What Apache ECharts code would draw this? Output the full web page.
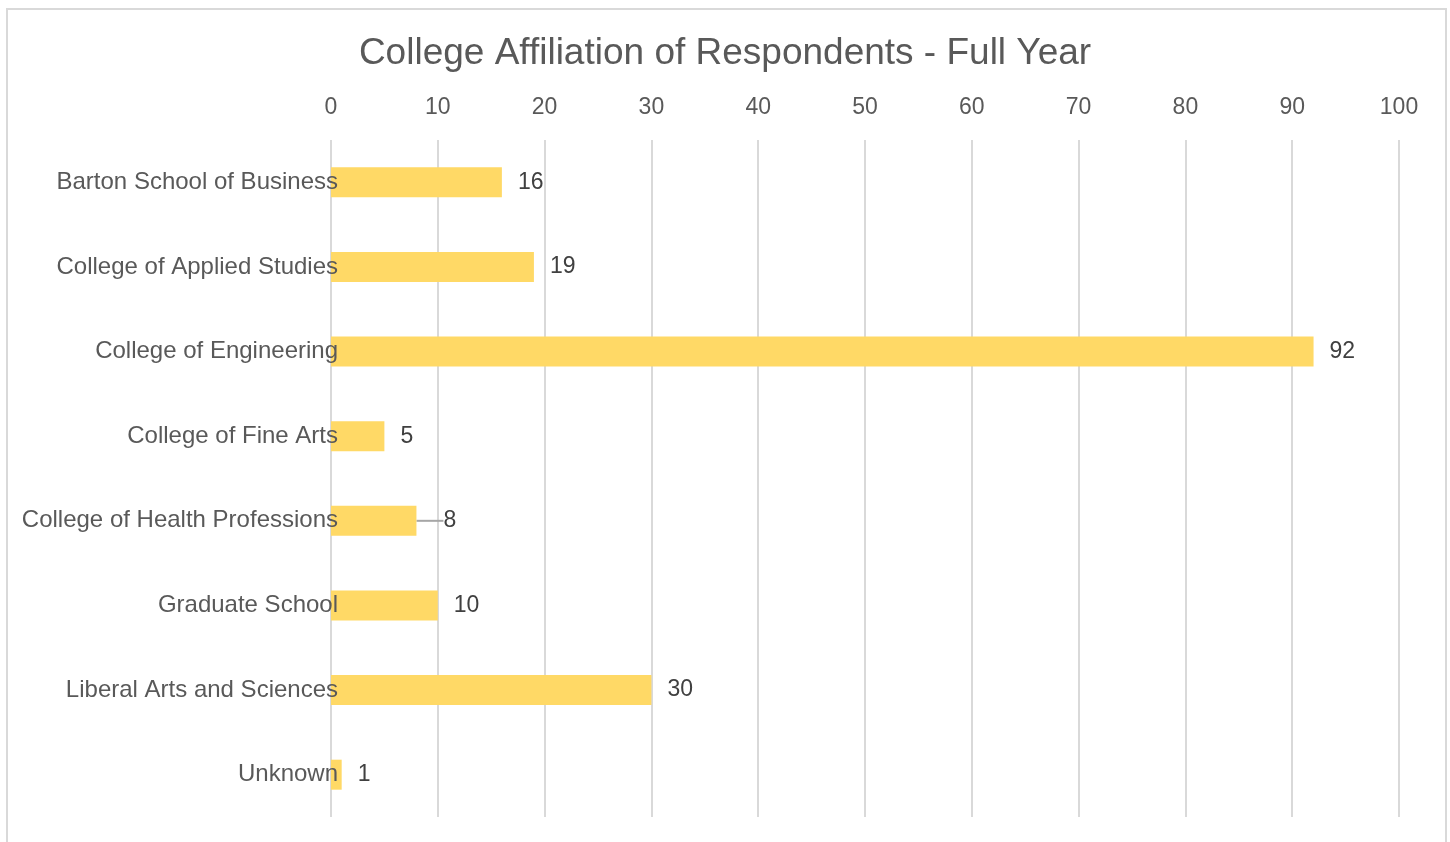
<!DOCTYPE html>
<html><head><meta charset="utf-8">
<script src="https://cdn.jsdelivr.net/npm/echarts@6/dist/echarts.min.js"></script>
<style>html,body{margin:0;padding:0;background:#fff}#c{width:1450px;height:842px}</style>
</head><body><div id="c"></div>
<script>
const categories = ["Barton School of Business","College of Applied Studies","College of Engineering","College of Fine Arts","College of Health Professions","Graduate School","Liberal Arts and Sciences","Unknown"];
const values = [16,19,92,5,8,10,30,1];
const title = "College Affiliation of Respondents - Full Year";

const chart = echarts.init(document.getElementById('c'));
chart.setOption({
  animation:false,
  backgroundColor:'#fff',
  title:{text:title,left:'center',top:30,textStyle:{fontFamily:'Liberation Sans',fontSize:37,fontWeight:'normal',color:'#595959'}},
  graphic:[{type:'rect',shape:{x:7,y:9,width:1439,height:860},style:{fill:'none',stroke:'#d9d9d9',lineWidth:2},z:-1}],
  grid:{left:331,right:51,top:140,bottom:25,containLabel:false},
  xAxis:{type:'value',position:'top',min:0,max:100,interval:10,
    axisLine:{show:false},axisTick:{show:false},
    axisLabel:{margin:21,fontFamily:'Liberation Sans',fontSize:23,color:'#595959'},
    splitLine:{lineStyle:{color:'#d9d9d9',width:2}}},
  yAxis:{type:'category',inverse:true,data:categories,z:10,
    axisLine:{show:false},axisTick:{show:false},
    axisLabel:{margin:-7,fontFamily:'Liberation Sans',fontSize:24,color:'#595959'}},
  series:[{type:'bar',barWidth:30,itemStyle:{color:'#FFD966'},
    data:values.map((v,i)=> i===4 ? {value:v,labelLine:{show:true,lineStyle:{color:'#a6a6a6',width:2}}} : v),
    label:{show:true,position:'right',distance:16,fontFamily:'Liberation Sans',fontSize:23,color:'#404040'},
    labelLine:{show:false},
    labelLayout:function(p){ if(p.dataIndex===4) return {dx:11}; return {}; },
    z:1}]
});
</script></body></html>
